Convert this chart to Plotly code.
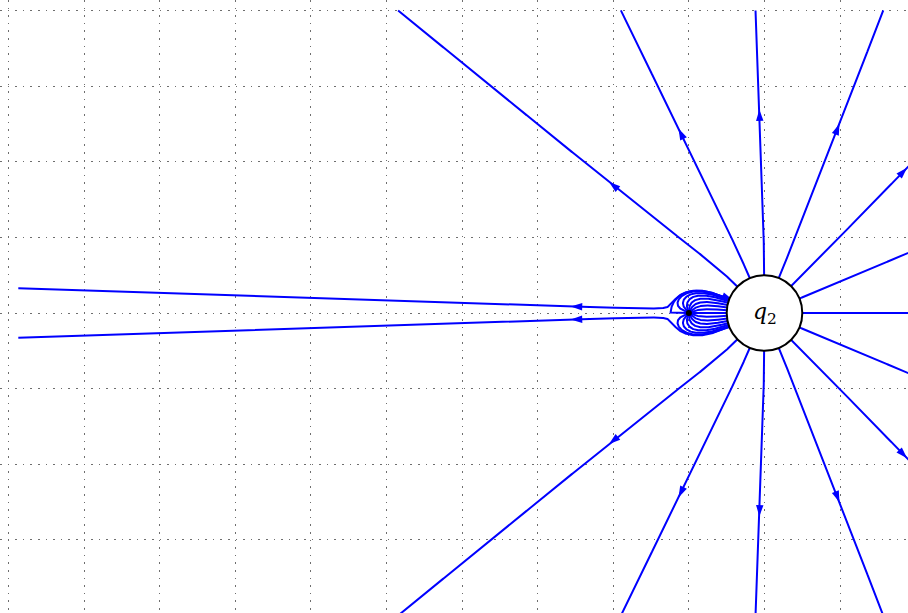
import numpy as np
import plotly.graph_objects as go

# charges: the big circled q2 at the origin and a small negative charge to its left
charge_x = [0.0, -1.0]
charge_y = [0.0, 0.0]
charge_q = [1.0, -0.0378]
q2_radius = 0.5

# starting angles (degrees) of the field lines leaving each charge
q2_angles = [0, 22.5, 45, 67.5, 90, 112.5, 135, 157.5, 180,
             202.5, 225, 247.5, 270, 292.5, 315, 337.5]
q1_angles = [0, 22.5, 45, 67.5, 90, 112.5, 135, 157.5, 180,
             202.5, 225, 247.5, 270, 292.5, 315, 337.5]

# where the lines stop / where the arrows sit (arc length from q2)
box_x = [-9.87, 2.5]
box_y = [-4.0, 4.0]
arrow_at = 2.67

# pixel geometry of the reference (75.6 px per unit, q2 at 764.5, 313)
W, H = 908, 613
s = 75.6
xr = [-764.5 / s, (W - 764.5) / s]
yr = [-(H - 313) / s, 313 / s]


def efield(x, y):
    ex, ey = 0.0, 0.0
    for cx, cy, q in zip(charge_x, charge_y, charge_q):
        dx, dy = x - cx, y - cy
        r3 = (dx * dx + dy * dy) ** 1.5
        ex += q * dx / r3
        ey += q * dy / r3
    return ex, ey


def unit_dir(x, y, sign):
    ex, ey = efield(x, y)
    n = np.hypot(ex, ey)
    return sign * ex / n, sign * ey / n


def trace(x, y, sign, stop, ds=0.004, nmax=8000):
    xs, ys = [x], [y]
    prev = None
    for _ in range(nmax):
        k1 = unit_dir(x, y, sign)
        if prev is not None and k1[0] * prev[0] + k1[1] * prev[1] < 0:
            break  # reached a null point
        k2 = unit_dir(x + ds / 2 * k1[0], y + ds / 2 * k1[1], sign)
        k3 = unit_dir(x + ds / 2 * k2[0], y + ds / 2 * k2[1], sign)
        k4 = unit_dir(x + ds * k3[0], y + ds * k3[1], sign)
        x += ds / 6 * (k1[0] + 2 * k2[0] + 2 * k3[0] + k4[0])
        y += ds / 6 * (k1[1] + 2 * k2[1] + 2 * k3[1] + k4[1])
        xs.append(x)
        ys.append(y)
        prev = k1
        if stop(x, y):
            break
    return np.array(xs), np.array(ys)


def out_or_sink(x, y):
    if x < box_x[0] or x > box_x[1] or y < box_y[0] or y > box_y[1]:
        return True
    return np.hypot(x - charge_x[1], y - charge_y[1]) < 0.01


def at_q2(x, y):
    return np.hypot(x - charge_x[0], y - charge_y[0]) < q2_radius - 0.05


line_x, line_y = [], []
arr_x, arr_y, arr_ang = [], [], []


def add_arrow(xs, ys, i):
    j0, j1 = max(i - 2, 0), min(i + 2, len(xs) - 1)
    dx, dy = xs[j1] - xs[j0], ys[j1] - ys[j0]
    arr_x.append(xs[i])
    arr_y.append(ys[i])
    arr_ang.append(90 - np.degrees(np.arctan2(dy, dx)))


# lines leaving q2
for a in q2_angles:
    t = np.radians(a)
    xs, ys = trace(charge_x[0] + 0.02 * np.cos(t), charge_y[0] + 0.02 * np.sin(t), 1, out_or_sink)
    line_x += list(xs) + [None]
    line_y += list(ys) + [None]
    seg = np.hypot(np.diff(xs), np.diff(ys))
    arc = np.concatenate([[0], np.cumsum(seg)])
    if arc[-1] > arrow_at + 0.1:
        add_arrow(xs, ys, int(np.searchsorted(arc, arrow_at)))

# lines ending on the small charge, traced back towards q2
for a in q1_angles:
    t = np.radians(a)
    xs, ys = trace(charge_x[1] + 0.01 * np.cos(t), charge_y[1] + 0.01 * np.sin(t), -1, at_q2,
                   ds=0.003)
    line_x += list(xs) + [None]
    line_y += list(ys) + [None]
    if a == 180:
        add_arrow(xs, ys, len(xs) - 1)

fig = go.Figure()
fig.add_trace(go.Scatter(x=line_x, y=line_y, mode="lines",
                         line=dict(color="#0000ff", width=2), hoverinfo="skip"))
fig.add_trace(go.Scatter(x=arr_x, y=arr_y, mode="markers",
                         marker=dict(symbol="arrow", size=12, angle=arr_ang,
                                     color="#0000ff", line=dict(width=0)),
                         hoverinfo="skip"))
fig.add_trace(go.Scatter(x=[charge_x[1]], y=[charge_y[1]], mode="markers",
                         marker=dict(color="black", size=6), hoverinfo="skip"))

fig.add_shape(type="circle", xref="x", yref="y",
              x0=charge_x[0] - q2_radius, x1=charge_x[0] + q2_radius,
              y0=charge_y[0] - q2_radius, y1=charge_y[0] + q2_radius,
              fillcolor="white", line=dict(color="black", width=2), layer="above")
fig.add_annotation(x=charge_x[0], y=charge_y[0], text="<i>q</i><sub>2</sub>",
                   showarrow=False, font=dict(family="DejaVu Serif", size=22, color="black"))

axis = dict(dtick=1, tick0=0, showticklabels=False, ticks="", zeroline=False,
            showline=False, showgrid=True, gridcolor="#6e6e6e", gridwidth=1.2,
            griddash="1.5px,6.1px")
fig.update_layout(
    width=W, height=H,
    margin=dict(l=0, r=0, t=0, b=0),
    plot_bgcolor="white", paper_bgcolor="white",
    showlegend=False,
    xaxis=dict(range=xr, **axis),
    yaxis=dict(range=yr, **axis),
)
fig.write_html("out.html", config={"displayModeBar": False},
               post_script="document.body.style.margin='0';")
